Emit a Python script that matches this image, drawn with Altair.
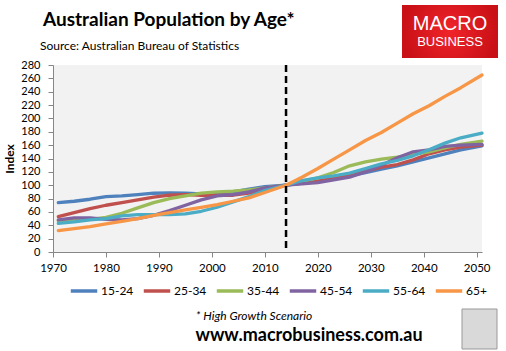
import altair as alt
import pandas as pd

years = [1971, 1974, 1977, 1980, 1983, 1986, 1989, 1992, 1995, 1998, 2001, 2004, 2007, 2010,
         2014, 2017, 2020, 2023, 2026, 2029, 2032, 2035, 2038, 2041, 2044, 2047, 2051]

s15_24 = [74, 76, 79, 83, 84, 86, 88, 88.5, 88, 87, 88, 90, 94, 98,
          100, 103, 106, 110, 114, 119, 124, 129, 135, 141, 147, 153, 159]
s25_34 = [53, 59, 65, 70, 74, 78, 82, 85, 86, 85, 85, 85, 88, 95,
          100, 103, 106, 110, 115, 121, 127, 131, 138, 147, 153, 157, 160]
s35_44 = [47, 48, 49, 52, 58, 66, 74, 80, 84, 88, 90, 91, 93, 96,
          100, 106, 111, 119, 129, 135, 139, 142, 146, 150, 156, 161, 166]
s45_54 = [48, 51, 51, 49, 48, 50, 55, 62, 70, 78, 84, 86, 90, 96,
          100, 102, 104, 108, 112, 120, 130, 141, 150, 153, 158, 160, 161]
s55_64 = [43, 45, 48, 50, 54, 56, 56, 56, 57, 61, 67, 75, 83, 92,
          100, 107, 111, 114, 118, 125, 132, 137, 144, 153, 163, 171, 178]
s65 = [32, 35, 38, 42, 46, 50, 55, 59, 63, 67, 71, 76, 81, 89,
       100, 112, 125, 139, 153, 167, 179, 193, 207, 219, 233, 246, 265]

series_names = ["15-24", "25-34", "35-44", "45-54", "55-64", "65+"]
series_values = [s15_24, s25_34, s35_44, s45_54, s55_64, s65]
colors = ["#4F81BD", "#C0504D", "#9BBB59", "#8064A2", "#4BACC6", "#F79646"]

x_ticks = [1970, 1980, 1990, 2000, 2010, 2020, 2030, 2040, 2050]
y_ticks = list(range(0, 281, 20))
marker_year = [2014]

title_text = "Australian Population by Age*"
subtitle_text = "Source: Australian Bureau of Statistics"
note_text = "* High Growth Scenario"
url_text = "www.macrobusiness.com.au"

rows = []
for name, vals in zip(series_names, series_values):
    for yr, v in zip(years, vals):
        rows.append({"year": yr, "value": v, "series": name})
df = pd.DataFrame(rows)

FONT = "Lato"
W, H = 429, 187

xscale = alt.Scale(domain=[1970, 2051], nice=False, zero=False)
yscale = alt.Scale(domain=[0, 280], nice=False)

lines = alt.Chart(df).mark_line(strokeWidth=3.3, strokeCap="round", strokeJoin="round").encode(
    x=alt.X("year:Q", scale=xscale,
            axis=alt.Axis(values=x_ticks, format="d", title=None, grid=False,
                          domainColor="#868686", tickColor="#868686", tickSize=5,
                          labelPadding=5, labelFont=FONT, labelFontSize=11.5,
                          labelColor="#000000", labelFlush=False)),
    y=alt.Y("value:Q", scale=yscale,
            axis=alt.Axis(values=y_ticks, title="Index", grid=False,
                          domainColor="#868686", tickColor="#868686", tickSize=5,
                          labelPadding=8, labelFont=FONT, labelFontSize=11,
                          labelColor="#000000", titleFont=FONT, titleFontSize=12,
                          titleFontWeight="bold", titleColor="#000000", titlePadding=4)),
    color=alt.Color("series:N",
                    scale=alt.Scale(domain=series_names, range=colors),
                    legend=alt.Legend(orient="none", legendX=16, legendY=211,
                                      direction="horizontal", title=None,
                                      symbolType="stroke", symbolSize=700,
                                      symbolStrokeWidth=3.5, labelFont=FONT,
                                      labelFontSize=12, labelColor="#000000",
                                      labelOffset=2, columnPadding=2, padding=0)),
    order=alt.Order("series:N"),
)

vline = alt.Chart(pd.DataFrame({"year": marker_year})).mark_rule(
    color="#000000", strokeWidth=2.5, strokeDash=[7, 4]
).encode(x=alt.X("year:Q", scale=xscale))

title = alt.Chart(pd.DataFrame({"t": [title_text]})).mark_text(
    align="left", baseline="alphabetic", font=FONT, fontSize=19, fontWeight="bold", color="#000000"
).encode(text="t:N", x=alt.value(-10), y=alt.value(-39))

subtitle = alt.Chart(pd.DataFrame({"t": [subtitle_text]})).mark_text(
    align="left", baseline="middle", font=FONT, fontSize=12, color="#000000"
).encode(text="t:N", x=alt.value(-13), y=alt.value(-19))

logo_bg = alt.Chart(pd.DataFrame({"a": [0]})).mark_rect(
    fill=alt.Gradient(gradient="radial", stops=[alt.GradientStop(color="#f0242a", offset=0),
                                                 alt.GradientStop(color="#c81016", offset=1)])
).encode(x=alt.value(349), x2=alt.value(445), y=alt.value(-60), y2=alt.value(-7))

logo_t1 = alt.Chart(pd.DataFrame({"t": ["MACRO"]})).mark_text(
    align="center", baseline="middle", font="Liberation Sans", fontSize=20, color="#ffffff"
).encode(text="t:N", x=alt.value(397), y=alt.value(-41))

logo_t2 = alt.Chart(pd.DataFrame({"t": ["BUSINESS"]})).mark_text(
    align="center", baseline="middle", font="Liberation Sans", fontSize=13, color="#ffffff"
).encode(text="t:N", x=alt.value(397), y=alt.value(-23))

note = alt.Chart(pd.DataFrame({"t": [note_text]})).mark_text(
    align="center", baseline="middle", font=FONT, fontSize=12, fontStyle="italic", color="#000000"
).encode(text="t:N", x=alt.value(201), y=alt.value(251))

url = alt.Chart(pd.DataFrame({"t": [url_text]})).mark_text(
    align="center", baseline="alphabetic", font=FONT, fontSize=18, fontWeight="bold", color="#000000"
).encode(text="t:N", x=alt.value(256), y=alt.value(276))

wolf = alt.Chart(pd.DataFrame({"a": [0]})).mark_rect(
    fill="#d9d9d9", stroke="#999999", strokeWidth=1
).encode(x=alt.value(409), x2=alt.value(444), y=alt.value(244), y2=alt.value(284))

chart = alt.layer(
    lines, vline, title, subtitle, logo_bg, logo_t1, logo_t2, note, url, wolf
).properties(
    width=W, height=H,
    autosize=alt.AutoSizeParams(type="none"),
    padding={"left": 53, "top": 65, "right": 24, "bottom": 99},
    background="#ffffff",
).configure_view(
    fill="#f2f2f2", stroke=None
)

chart.save("out.html", embed_options={"renderer": "svg", "actions": False})
